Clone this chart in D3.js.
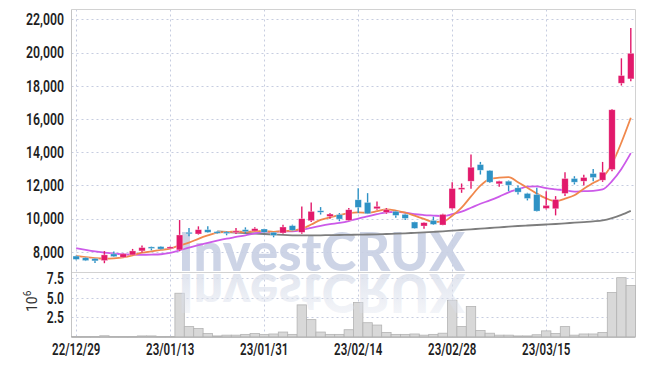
<!DOCTYPE html>
<html>
<head>
<meta charset="utf-8">
<script src="https://cdn.jsdelivr.net/npm/d3@7"></script>
<style>
  body { margin: 0; background: #fff; }
  svg { display: block; font-family: Roboto, "DejaVu Sans", sans-serif; }
</style>
</head>
<body>
<svg id="chart" width="645" height="366"></svg>
<script>
// trading days shown
const dates = [
  "22/12/29","23/01/02","23/01/03","23/01/04","23/01/05","23/01/06","23/01/09","23/01/10","23/01/11","23/01/12",
  "23/01/13","23/01/16","23/01/17","23/01/18","23/01/19","23/01/20","23/01/25","23/01/26","23/01/27","23/01/30",
  "23/01/31","23/02/01","23/02/02","23/02/03","23/02/06","23/02/07","23/02/08","23/02/09","23/02/10","23/02/13",
  "23/02/14","23/02/15","23/02/16","23/02/17","23/02/20","23/02/21","23/02/22","23/02/23","23/02/24","23/02/27",
  "23/02/28","23/03/02","23/03/03","23/03/06","23/03/07","23/03/08","23/03/09","23/03/10","23/03/13","23/03/14",
  "23/03/15","23/03/16","23/03/17","23/03/20","23/03/21","23/03/22","23/03/23","23/03/24","23/03/27","23/03/28"
];
const opens = [
  7750,7650,7600,7480,7880,7680,7820,8060,8300,8320,
  8200,8120,9180,9080,9340,9220,9200,9180,9340,9260,
  9380,9180,9140,9580,9180,9880,10480,10140,10240,9900,
  11140,10980,10600,10380,10440,10260,9800,9560,9900,9620,
  10620,11760,12260,13260,12900,12100,12260,11860,11520,11460,
  10620,10600,11520,12420,12260,12720,12320,12960,18160,18420
];
const highs = [
  7780,7680,7620,8050,8020,7900,8180,8380,8320,8340,
  8320,9920,9440,9540,9540,9260,9250,9440,9480,9480,
  9400,9200,9640,9640,10740,10980,10700,10340,10340,10640,
  11840,11540,11040,10640,10480,10300,9820,9780,10120,10300,
  12200,12120,13860,13420,12920,12280,12300,12000,11560,11860,
  11660,11360,12800,12560,12640,13000,13420,16600,19660,21480
];
const lows = [
  7500,7450,7330,7320,7700,7660,7800,7960,8100,8150,
  8180,8050,8950,9040,9150,9100,9000,9080,9120,9240,
  9160,8880,9100,9280,9100,9800,10250,10000,9850,9880,
  10340,10280,10540,10300,10050,9920,9400,9400,9620,9600,
  10560,11560,11800,12660,12150,11920,11660,11460,11100,10440,
  10560,10200,11360,12060,12000,12260,12220,12860,18020,18280
];
const closes = [
  7550,7480,7460,7820,7720,7880,8060,8260,8220,8170,
  8300,9020,9100,9340,9180,9180,9180,9260,9220,9400,
  9180,9000,9500,9300,10000,10440,10400,10280,9980,10540,
  10680,10300,10740,10540,10200,10020,9420,9760,9660,10260,
  11820,11860,13100,12920,12200,12260,12020,11600,11220,10460,
  10800,11160,12420,12200,12480,12480,12800,16560,18620,19960
];
// volume, millions of shares
const volumes = [
  0.03,0.02,0.02,0.12,0.03,0.02,0.03,0.1,0.1,0.03,
  0.04,5.6,1.3,1.05,0.4,0.1,0.2,0.2,0.3,0.4,
  0.3,0.35,0.6,0.3,4.1,2.2,0.6,0.3,0.3,0.9,
  4.4,1.8,1.5,0.55,0.3,0.3,0.35,0.2,0.3,0.45,
  4.7,1.3,3.9,0.8,0.45,0.2,0.2,0.1,0.1,0.25,
  0.75,0.4,1.3,0.2,0.35,0.35,0.55,5.7,7.6,6.6
];
// moving averages as drawn
const ma5 = [
  7760,7680,7620,7590,7610,7670,7790,7950,8030,8120,
  8200,8390,8560,8790,8990,9160,9200,9230,9200,9250,
  9250,9210,9260,9280,9400,9650,9930,10080,10220,10330,
  10380,10360,10450,10560,10490,10360,10180,9990,9810,9820,
  10180,10670,11340,11990,12380,12470,12500,12200,11860,11510,
  11220,11050,11210,11410,11810,12150,12480,13300,14590,16080
];
const ma10 = [
  8220,8120,8030,7960,7900,7860,7840,7830,7840,7860,
  7940,8090,8260,8410,8550,8680,8800,8900,9000,9120,
  9210,9200,9240,9240,9320,9450,9570,9670,9750,9860,
  10010,10140,10270,10390,10410,10370,10270,10220,10190,10160,
  10270,10430,10660,10900,11100,11330,11590,11770,11930,11950,
  11840,11770,11710,11630,11660,11680,11760,12260,13000,13950
];
const ma60 = [
  null,null,null,null,null,null,null,null,null,null,
  null,null,null,null,null,9230,9200,9170,9140,9110,
  9080,9050,9020,9000,8990,8990,9000,9010,9020,9030,
  9040,9050,9060,9080,9100,9120,9150,9180,9210,9240,
  9280,9320,9360,9400,9440,9480,9520,9560,9590,9620,
  9650,9680,9720,9760,9800,9840,9900,10040,10230,10470
];
const priceTicks = [8000, 10000, 12000, 14000, 16000, 18000, 20000, 22000];
const volTicks = [2.5, 5.0, 7.5];
const labelIdx = [0, 10, 20, 30, 40, 50];

const svg = d3.select("#chart");
const plotL = 71.5, plotR = 635.5, plotT = 9.5, plotMid = 272.5, plotB = 337;

const x = d3.scaleLinear().domain([-0.5, dates.length - 0.5]).range([plotL, plotR]);
const step = x(1) - x(0);
const y = d3.scaleLinear().domain([6760, 22600]).range([plotMid, plotT]);
const yv = d3.scaleLinear().domain([0, 8.27]).range([plotB - 0.3, plotMid]);

// narrow label font: squeeze glyphs to the reference's width
const narrow = s => s.split("").reduce((w, c) => w + (",./".includes(c) ? 3.4 : 6.9), 0);

const gridColor = "#c6cde0";

// grid
const grid = svg.append("g").attr("stroke", gridColor).attr("stroke-dasharray", "2,3").attr("stroke-width", 1);
grid.selectAll(".hp").data(priceTicks).join("line")
  .attr("x1", plotL).attr("x2", plotR)
  .attr("y1", d => Math.round(y(d)) + 0.5).attr("y2", d => Math.round(y(d)) + 0.5);
grid.selectAll(".hv").data(volTicks).join("line")
  .attr("x1", plotL).attr("x2", plotR)
  .attr("y1", d => Math.round(yv(d)) + 0.5).attr("y2", d => Math.round(yv(d)) + 0.5);
grid.selectAll(".v").data(labelIdx).join("line")
  .attr("x1", d => Math.round(x(d)) + 0.5).attr("x2", d => Math.round(x(d)) + 0.5)
  .attr("y1", plotT).attr("y2", plotB);

// frame
const frame = svg.append("g").attr("stroke", "#d2d2d2").attr("stroke-width", 1);
frame.append("line").attr("x1", plotL).attr("x2", plotR).attr("y1", plotT).attr("y2", plotT);
frame.append("line").attr("x1", plotR).attr("x2", plotR).attr("y1", plotT).attr("y2", plotB);
frame.append("line").attr("x1", plotL).attr("x2", plotR).attr("y1", plotMid).attr("y2", plotMid);
frame.append("line").attr("x1", plotL).attr("x2", plotL).attr("y1", plotT).attr("y2", plotB).attr("stroke", "#c4c4c4");
frame.append("line").attr("x1", plotL).attr("x2", plotR).attr("y1", plotB + 0.5).attr("y2", plotB + 0.5).attr("stroke", "#bdbdbd");

// volume bars
svg.append("g").selectAll("rect").data(volumes).join("rect")
  .attr("x", (d, i) => x(i) - step / 2)
  .attr("width", step)
  .attr("y", d => yv(d))
  .attr("height", d => Math.max(0.5, yv(0) - yv(d)))
  .attr("fill", "#d8d8d8")
  .attr("stroke", "#b3b3b3")
  .attr("stroke-width", 0.8);

// watermark with reflection
const defs = svg.append("defs");
const grad = defs.append("linearGradient").attr("id", "fade").attr("x1", 0).attr("x2", 0).attr("y1", 0).attr("y2", 1);
grad.append("stop").attr("offset", "0%").attr("stop-color", "#dadfeb").attr("stop-opacity", 0.15);
grad.append("stop").attr("offset", "100%").attr("stop-color", "#dadfeb").attr("stop-opacity", 0.95);
const wm = svg.append("g").attr("font-family", "Lato, 'Open Sans', sans-serif").attr("font-weight", 900);
wm.append("text")
  .attr("x", 178).attr("y", 271)
  .attr("font-size", 54)
  .attr("textLength", 287).attr("lengthAdjust", "spacingAndGlyphs")
  .attr("fill", "#c8cfe3").attr("fill-opacity", 0.9)
  .text("InvestCRUX");
wm.append("text")
  .attr("transform", "translate(0,545) scale(1,-1)")
  .attr("x", 178).attr("y", 271)
  .attr("font-size", 54)
  .attr("textLength", 287).attr("lengthAdjust", "spacingAndGlyphs")
  .attr("fill", "url(#fade)")
  .text("InvestCRUX");

// moving average lines
const line = d3.line()
  .defined(d => d != null)
  .x((d, i) => x(i))
  .y(d => y(d))
  .curve(d3.curveMonotoneX);
const maSeries = [
  { values: ma60, color: "#7d7d7d" },
  { values: ma10, color: "#cc5ae9" },
  { values: ma5, color: "#f0884c" }
];
svg.append("g").selectAll("path").data(maSeries).join("path")
  .attr("d", d => line(d.values))
  .attr("fill", "none")
  .attr("stroke", d => d.color)
  .attr("stroke-width", 1.8);

// candles
const up = "#e2196b", down = "#2e92c5";
const candles = svg.append("g").selectAll("g").data(dates).join("g");
candles.append("line")
  .attr("x1", (d, i) => x(i)).attr("x2", (d, i) => x(i))
  .attr("y1", (d, i) => y(highs[i])).attr("y2", (d, i) => y(lows[i]))
  .attr("stroke", (d, i) => closes[i] >= opens[i] ? up : down)
  .attr("stroke-width", 1.4);
const bodyW = 6.4;
candles.append("rect")
  .attr("x", (d, i) => x(i) - bodyW / 2)
  .attr("width", bodyW)
  .attr("y", (d, i) => y(Math.max(opens[i], closes[i])))
  .attr("height", (d, i) => Math.max(1.5, Math.abs(y(opens[i]) - y(closes[i]))))
  .attr("fill", (d, i) => closes[i] >= opens[i] ? up : down)
  .attr("stroke", "#ffffff").attr("stroke-opacity", 0.5).attr("stroke-width", 0.6);

// price axis labels
svg.append("g").selectAll("text").data(priceTicks.map(d3.format(","))).join("text")
  .attr("x", 64).attr("y", (d, i) => y(priceTicks[i]))
  .attr("dy", "0.36em")
  .attr("text-anchor", "end")
  .attr("font-size", 16).attr("font-weight", 600)
  .attr("textLength", d => narrow(d)).attr("lengthAdjust", "spacingAndGlyphs")
  .attr("fill", "#1e1e1e")
  .text(d => d);

// volume axis labels
svg.append("g").selectAll("text").data(volTicks.map(d => d.toFixed(1))).join("text")
  .attr("x", 64).attr("y", (d, i) => yv(volTicks[i]))
  .attr("dy", "0.36em")
  .attr("text-anchor", "end")
  .attr("font-size", 16).attr("font-weight", 600)
  .attr("textLength", d => narrow(d)).attr("lengthAdjust", "spacingAndGlyphs")
  .attr("fill", "#1e1e1e")
  .text(d => d);

const unit = svg.append("text")
  .attr("transform", "translate(37,312) rotate(-90)")
  .attr("font-size", 14).attr("fill", "#333");
unit.append("tspan").text("10");
unit.append("tspan").attr("dy", -6).attr("font-size", 10).text("6");

// date labels
svg.append("g").selectAll("text").data(labelIdx).join("text")
  .attr("x", d => x(d)).attr("y", 355)
  .attr("text-anchor", "middle")
  .attr("font-size", 16).attr("font-weight", 600)
  .attr("textLength", d => narrow(dates[d])).attr("lengthAdjust", "spacingAndGlyphs")
  .attr("fill", "#1e1e1e")
  .text(d => dates[d]);
</script>
</body>
</html>
